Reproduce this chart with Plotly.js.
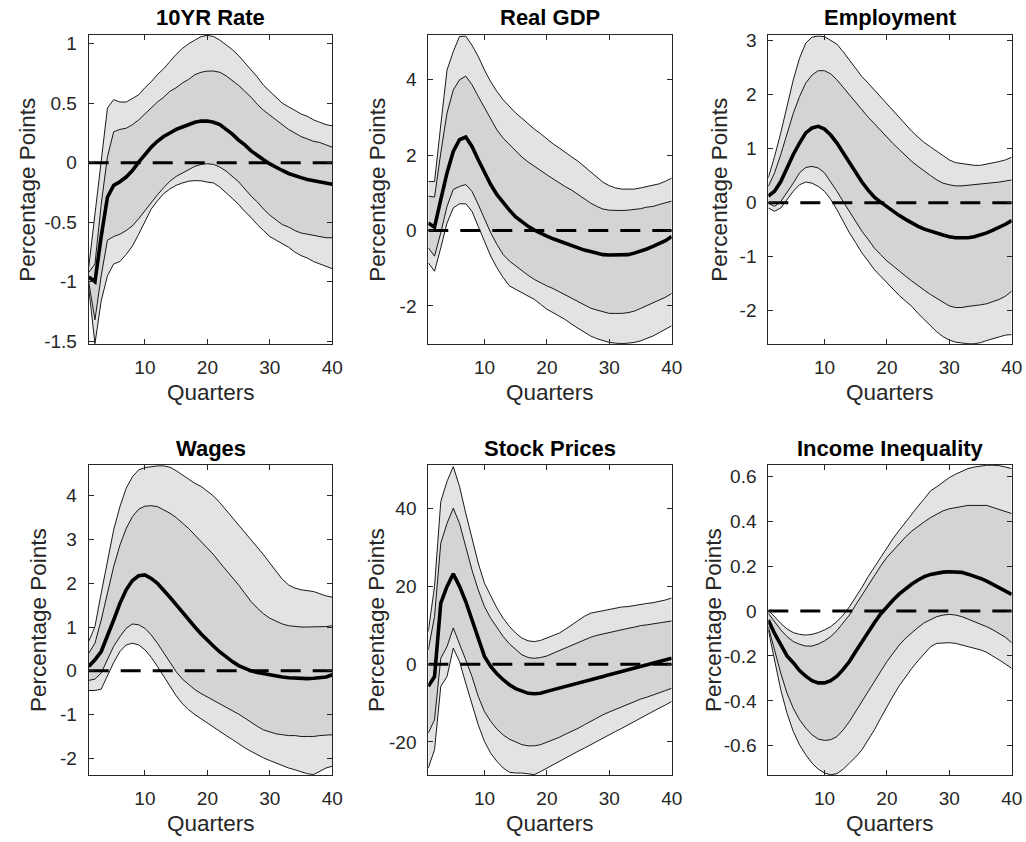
<!DOCTYPE html>
<html><head><meta charset="utf-8">
<script src="https://cdn.plot.ly/plotly-3.0.1.min.js"></script>
<style>html,body{margin:0;padding:0;background:#fff}#chart{width:1026px;height:842px}</style>
</head><body><div id="chart"></div>
<script>
// ---------------- DATA ----------------
const quarters = Array.from({length: 40}, (_, i) => i + 1);
const xTickVals = [10, 20, 30, 40];
const xTickText = ['10', '20', '30', '40'];

// 10YR Rate
const rate_lo90 = [-1.05,-1.52,-1.16,-0.95,-0.85,-0.83,-0.77,-0.70,-0.60,-0.49,-0.39,-0.32,-0.26,-0.22,-0.19,-0.17,-0.155,-0.15,-0.152,-0.163,-0.17,-0.205,-0.25,-0.30,-0.35,-0.41,-0.46,-0.52,-0.57,-0.62,-0.65,-0.68,-0.71,-0.75,-0.78,-0.80,-0.83,-0.85,-0.87,-0.89];
const rate_lo68 = [-1.00,-1.32,-0.95,-0.65,-0.62,-0.60,-0.57,-0.53,-0.47,-0.40,-0.33,-0.27,-0.21,-0.155,-0.115,-0.085,-0.056,-0.03,-0.014,-0.008,-0.014,-0.037,-0.07,-0.115,-0.16,-0.22,-0.28,-0.33,-0.39,-0.44,-0.48,-0.52,-0.54,-0.57,-0.59,-0.60,-0.61,-0.62,-0.63,-0.63];
const rate_med  = [-0.96,-1.00,-0.62,-0.29,-0.19,-0.16,-0.12,-0.065,0.005,0.07,0.13,0.18,0.22,0.25,0.28,0.30,0.32,0.34,0.35,0.35,0.34,0.32,0.28,0.24,0.19,0.15,0.10,0.06,0.025,-0.01,-0.04,-0.065,-0.09,-0.11,-0.125,-0.14,-0.15,-0.16,-0.17,-0.18];
const rate_hi68 = [-0.92,-0.85,-0.35,0.05,0.26,0.28,0.29,0.32,0.36,0.41,0.46,0.51,0.55,0.60,0.63,0.67,0.70,0.74,0.76,0.77,0.77,0.76,0.73,0.69,0.65,0.60,0.55,0.49,0.44,0.40,0.36,0.32,0.28,0.25,0.22,0.20,0.18,0.17,0.15,0.13];
const rate_hi90 = [-0.88,-0.45,0.02,0.46,0.53,0.51,0.51,0.54,0.57,0.63,0.68,0.74,0.79,0.85,0.91,0.96,1.00,1.03,1.06,1.07,1.06,1.03,0.99,0.95,0.90,0.84,0.78,0.72,0.65,0.60,0.55,0.50,0.47,0.44,0.41,0.39,0.36,0.34,0.32,0.31];
const rateTickVals = [-1.5,-1,-0.5,0,0.5,1];
const rateTickText = ['-1.5','-1','-0.5','0','0.5','1'];

// Real GDP
const gdp_lo90 = [-0.86,-1.08,-0.46,0.20,0.60,0.71,0.71,0.51,0.11,-0.28,-0.68,-0.99,-1.25,-1.47,-1.56,-1.65,-1.74,-1.83,-1.96,-2.09,-2.18,-2.27,-2.37,-2.49,-2.60,-2.71,-2.80,-2.87,-2.93,-2.97,-2.99,-3.00,-2.99,-2.97,-2.93,-2.87,-2.80,-2.71,-2.62,-2.53];
const gdp_lo68 = [-0.46,-0.68,-0.06,0.64,1.09,1.17,1.22,1.04,0.69,0.29,-0.06,-0.37,-0.64,-0.81,-0.94,-1.08,-1.19,-1.30,-1.39,-1.47,-1.54,-1.63,-1.72,-1.81,-1.90,-1.99,-2.06,-2.11,-2.16,-2.20,-2.20,-2.20,-2.18,-2.14,-2.07,-2.00,-1.93,-1.85,-1.77,-1.67];
const gdp_med  = [0.20,0.09,0.82,1.53,2.10,2.41,2.48,2.23,1.88,1.53,1.22,0.95,0.73,0.54,0.36,0.22,0.11,0.01,-0.08,-0.15,-0.22,-0.28,-0.34,-0.41,-0.47,-0.52,-0.56,-0.61,-0.64,-0.65,-0.65,-0.65,-0.64,-0.60,-0.55,-0.49,-0.42,-0.35,-0.27,-0.16];
const gdp_hi68 = [0.91,0.89,2.06,3.12,3.73,4.00,4.10,3.87,3.56,3.25,2.94,2.67,2.45,2.28,2.10,1.95,1.82,1.70,1.60,1.48,1.37,1.26,1.16,1.07,0.95,0.84,0.73,0.64,0.57,0.54,0.53,0.53,0.54,0.56,0.58,0.62,0.64,0.69,0.73,0.78];
const gdp_hi90 = [1.30,1.30,2.80,4.26,4.75,5.15,5.16,4.92,4.62,4.26,3.95,3.69,3.47,3.29,3.12,2.98,2.83,2.69,2.57,2.43,2.30,2.19,2.06,1.95,1.84,1.70,1.57,1.44,1.28,1.19,1.13,1.10,1.10,1.10,1.13,1.16,1.19,1.24,1.31,1.39];
const gdpTickVals = [-2,0,2,4];
const gdpTickText = ['-2','0','2','4'];

// Employment
const emp_lo90 = [-0.10,-0.16,-0.10,0.06,0.21,0.33,0.38,0.36,0.30,0.21,0.06,-0.13,-0.34,-0.56,-0.74,-0.93,-1.08,-1.24,-1.36,-1.48,-1.61,-1.72,-1.82,-1.92,-2.05,-2.16,-2.28,-2.39,-2.48,-2.54,-2.58,-2.60,-2.61,-2.61,-2.59,-2.55,-2.52,-2.48,-2.45,-2.44];
const emp_lo68 = [-0.01,-0.07,0.02,0.18,0.36,0.55,0.65,0.67,0.64,0.55,0.39,0.21,0.02,-0.16,-0.34,-0.53,-0.68,-0.84,-0.96,-1.08,-1.17,-1.27,-1.36,-1.45,-1.54,-1.62,-1.70,-1.77,-1.85,-1.91,-1.94,-1.94,-1.92,-1.91,-1.89,-1.87,-1.83,-1.79,-1.73,-1.64];
const emp_med  = [0.12,0.21,0.39,0.64,0.89,1.10,1.29,1.38,1.41,1.36,1.25,1.10,0.92,0.73,0.55,0.38,0.23,0.10,0.01,-0.08,-0.16,-0.24,-0.31,-0.38,-0.44,-0.49,-0.53,-0.57,-0.60,-0.63,-0.65,-0.65,-0.65,-0.63,-0.60,-0.56,-0.51,-0.46,-0.40,-0.33];
const emp_hi68 = [0.30,0.55,0.89,1.29,1.65,1.96,2.21,2.36,2.44,2.44,2.38,2.27,2.13,1.99,1.85,1.72,1.58,1.46,1.33,1.21,1.09,0.98,0.87,0.76,0.67,0.58,0.50,0.42,0.36,0.33,0.31,0.31,0.32,0.33,0.34,0.36,0.37,0.38,0.40,0.42];
const emp_hi90 = [0.46,0.85,1.29,1.78,2.27,2.67,2.95,3.06,3.08,3.07,3.00,2.93,2.79,2.64,2.48,2.33,2.21,2.08,1.96,1.83,1.69,1.56,1.44,1.32,1.21,1.11,1.03,0.95,0.87,0.79,0.74,0.72,0.70,0.69,0.69,0.71,0.73,0.76,0.79,0.84];
const empTickVals = [-2,-1,0,1,2,3];
const empTickText = ['-2','-1','0','1','2','3'];

// Wages
const wage_lo90 = [-0.45,-0.45,-0.42,-0.13,0.19,0.44,0.59,0.63,0.59,0.48,0.31,0.10,-0.13,-0.36,-0.57,-0.75,-0.89,-1.00,-1.10,-1.19,-1.29,-1.38,-1.48,-1.57,-1.67,-1.76,-1.84,-1.92,-1.99,-2.05,-2.11,-2.17,-2.22,-2.26,-2.31,-2.35,-2.37,-2.30,-2.22,-2.18];
const wage_lo68 = [-0.22,-0.19,-0.05,0.25,0.56,0.78,0.97,1.07,1.05,0.97,0.82,0.63,0.42,0.19,-0.02,-0.19,-0.32,-0.43,-0.52,-0.60,-0.68,-0.75,-0.83,-0.90,-0.99,-1.08,-1.18,-1.27,-1.35,-1.40,-1.44,-1.46,-1.48,-1.48,-1.50,-1.50,-1.50,-1.48,-1.47,-1.46];
const wage_med  = [0.10,0.25,0.44,0.78,1.16,1.54,1.85,2.06,2.17,2.19,2.11,2.00,1.85,1.68,1.51,1.33,1.16,1.00,0.84,0.69,0.56,0.43,0.31,0.21,0.12,0.05,0.00,-0.04,-0.07,-0.10,-0.12,-0.14,-0.16,-0.17,-0.18,-0.18,-0.17,-0.16,-0.14,-0.09];
const wage_hi68 = [0.40,0.63,1.16,1.77,2.38,2.87,3.25,3.52,3.69,3.76,3.77,3.75,3.67,3.60,3.50,3.38,3.25,3.10,2.95,2.80,2.65,2.47,2.30,2.14,1.96,1.77,1.58,1.43,1.30,1.20,1.13,1.07,1.03,1.01,1.00,1.00,1.00,1.00,1.01,1.03];
const wage_hi90 = [0.67,1.01,1.77,2.53,3.22,3.75,4.17,4.43,4.59,4.64,4.66,4.68,4.68,4.65,4.57,4.47,4.37,4.28,4.21,4.11,3.99,3.84,3.67,3.51,3.35,3.18,3.00,2.82,2.65,2.46,2.27,2.09,1.96,1.89,1.85,1.83,1.81,1.76,1.71,1.68];
const wageTickVals = [-2,-1,0,1,2,3,4];
const wageTickText = ['-2','-1','0','1','2','3','4'];

// Stock Prices
const stock_lo90 = [-26.7,-22.0,-5.7,-3.2,4.1,0.7,-4.9,-10.5,-15.6,-19.9,-22.9,-25.0,-26.7,-27.8,-28.0,-28.0,-28.2,-28.4,-27.6,-26.7,-25.9,-25.0,-24.2,-23.3,-22.4,-21.6,-20.7,-19.9,-19.0,-18.2,-17.3,-16.5,-15.6,-14.7,-13.9,-13.0,-12.2,-11.3,-10.5,-9.6];
const stock_lo68 = [-17.7,-14.3,1.5,4.5,9.3,5.4,1.1,-3.2,-8.3,-12.2,-14.7,-16.7,-18.2,-19.3,-20.1,-20.7,-21.0,-21.0,-20.7,-20.1,-19.5,-18.8,-18.0,-17.3,-16.5,-15.6,-14.7,-13.9,-13.0,-12.3,-11.6,-10.9,-10.2,-9.6,-9.0,-8.5,-8.0,-7.5,-6.8,-6.2];
const stock_med  = [-5.7,-3.2,15.7,20.0,23.2,20.0,16.1,11.4,6.3,2.0,-0.6,-2.5,-4.0,-5.3,-6.3,-7.0,-7.5,-7.6,-7.5,-7.0,-6.6,-6.2,-5.7,-5.3,-4.9,-4.5,-4.0,-3.6,-3.2,-2.7,-2.3,-1.9,-1.5,-1.0,-0.6,-0.2,0.3,0.7,1.1,1.5];
const stock_hi68 = [3.7,12.3,31.1,36.2,40.1,36.2,30.2,24.2,19.1,14.8,11.8,9.3,7.1,5.2,3.7,2.4,1.7,1.5,1.7,2.1,2.8,3.5,4.3,5.0,5.6,6.3,6.9,7.4,7.8,8.1,8.5,8.8,9.2,9.5,9.9,10.1,10.4,10.6,10.9,11.1];
const stock_hi90 = [8.4,20.0,41.8,47.0,50.8,45.7,38.8,32.0,26.0,20.8,17.4,14.4,11.8,9.7,8.0,6.7,6.0,5.8,6.1,6.7,7.3,8.0,9.0,10.1,11.4,12.3,13.1,13.4,13.8,14.0,14.3,14.7,14.8,15.1,15.4,15.6,15.8,16.1,16.5,17.0];
const stockTickVals = [-20,0,20,40];
const stockTickText = ['-20','0','20','40'];

// Income Inequality
const ineq_lo90 = [-0.084,-0.218,-0.351,-0.455,-0.536,-0.596,-0.640,-0.677,-0.704,-0.721,-0.729,-0.724,-0.704,-0.677,-0.650,-0.618,-0.576,-0.529,-0.477,-0.425,-0.378,-0.332,-0.292,-0.255,-0.221,-0.188,-0.159,-0.144,-0.141,-0.141,-0.144,-0.151,-0.159,-0.166,-0.173,-0.184,-0.200,-0.218,-0.236,-0.255];
const ineq_lo68 = [-0.070,-0.173,-0.277,-0.366,-0.433,-0.484,-0.521,-0.551,-0.570,-0.576,-0.573,-0.559,-0.529,-0.492,-0.447,-0.403,-0.359,-0.314,-0.270,-0.225,-0.188,-0.151,-0.121,-0.095,-0.073,-0.052,-0.037,-0.025,-0.018,-0.015,-0.018,-0.025,-0.036,-0.047,-0.058,-0.070,-0.084,-0.099,-0.117,-0.141];
const ineq_med  = [-0.040,-0.100,-0.150,-0.200,-0.230,-0.265,-0.290,-0.310,-0.320,-0.320,-0.310,-0.290,-0.260,-0.225,-0.180,-0.136,-0.092,-0.052,-0.013,0.019,0.049,0.076,0.100,0.120,0.138,0.153,0.163,0.170,0.173,0.175,0.175,0.172,0.164,0.156,0.145,0.133,0.119,0.104,0.089,0.074];
const ineq_hi68 = [-0.010,-0.047,-0.084,-0.114,-0.136,-0.148,-0.156,-0.156,-0.147,-0.133,-0.114,-0.087,-0.055,-0.018,0.027,0.071,0.116,0.160,0.200,0.239,0.271,0.301,0.330,0.356,0.378,0.397,0.416,0.431,0.446,0.455,0.461,0.467,0.470,0.470,0.471,0.470,0.461,0.452,0.444,0.434];
const ineq_hi90 = [0.005,-0.025,-0.055,-0.080,-0.096,-0.104,-0.107,-0.104,-0.096,-0.084,-0.070,-0.047,-0.018,0.019,0.060,0.105,0.153,0.197,0.241,0.283,0.323,0.360,0.397,0.431,0.467,0.500,0.535,0.553,0.575,0.594,0.609,0.622,0.634,0.641,0.646,0.649,0.649,0.647,0.641,0.634];
const ineqTickVals = [-0.6,-0.4,-0.2,0,0.2,0.4,0.6];
const ineqTickText = ['-0.6','-0.4','-0.2','0','0.2','0.4','0.6'];

const titles = ['10YR Rate', 'Real GDP', 'Employment', 'Wages', 'Stock Prices', 'Income Inequality'];
const yLabel = 'Percentage Points';
const xLabel = 'Quarters';

// ---------------- LAYOUT / TRACES ----------------
const W = 1026, H = 842;
const pxX = v => v / W, pxY = v => 1 - v / H;
const FONT = '"Liberation Sans", Arial, Helvetica, sans-serif';
const TXT = '#262626';
const cols = [[88.7, 332.3], [428.3, 671.7], [768.3, 1011.7]];
const rows = [[35, 344.3], [465, 775]];

const panels = [
  {bands: [rate_lo90, rate_lo68, rate_med, rate_hi68, rate_hi90], range: [-1.525, 1.073], tv: rateTickVals, tt: rateTickText, ylx: 28},
  {bands: [gdp_lo90, gdp_lo68, gdp_med, gdp_hi68, gdp_hi90], range: [-3.02, 5.19], tv: gdpTickVals, tt: gdpTickText, ylx: 378},
  {bands: [emp_lo90, emp_lo68, emp_med, emp_hi68, emp_hi90], range: [-2.62, 3.1], tv: empTickVals, tt: empTickText, ylx: 720},
  {bands: [wage_lo90, wage_lo68, wage_med, wage_hi68, wage_hi90], range: [-2.38, 4.7], tv: wageTickVals, tt: wageTickText, ylx: 38},
  {bands: [stock_lo90, stock_lo68, stock_med, stock_hi68, stock_hi90], range: [-28.5, 51.2], tv: stockTickVals, tt: stockTickText, ylx: 376},
  {bands: [ineq_lo90, ineq_lo68, ineq_med, ineq_hi68, ineq_hi90], range: [-0.73, 0.65], tv: ineqTickVals, tt: ineqTickText, ylx: 713}
];

const traces = [];
const layout = {
  width: W, height: H,
  margin: {l: 0, r: 0, t: 0, b: 0},
  paper_bgcolor: '#ffffff', plot_bgcolor: '#ffffff',
  showlegend: false,
  font: {family: FONT, color: TXT},
  annotations: []
};

panels.forEach((p, i) => {
  const sfx = i === 0 ? '' : String(i + 1);
  const xa = 'x' + sfx, ya = 'y' + sfx;
  const c = cols[i % 3], r = rows[Math.floor(i / 3)];
  const [lo90, lo68, med, hi68, hi90] = p.bands;
  const common = {x: quarters, xaxis: xa, yaxis: ya, mode: 'lines', hoverinfo: 'skip', showlegend: false};

  // outer band fill
  traces.push(Object.assign({}, common, {y: lo90, line: {width: 0, color: 'rgba(0,0,0,0)'}}));
  traces.push(Object.assign({}, common, {y: hi90, fill: 'tonexty', fillcolor: '#e3e3e3', line: {width: 0, color: 'rgba(0,0,0,0)'}}));
  // inner band fill
  traces.push(Object.assign({}, common, {y: lo68, line: {width: 0, color: 'rgba(0,0,0,0)'}}));
  traces.push(Object.assign({}, common, {y: hi68, fill: 'tonexty', fillcolor: '#d4d4d4', line: {width: 0, color: 'rgba(0,0,0,0)'}}));
  // band edges
  [lo90, lo68, hi68, hi90].forEach(s => {
    traces.push(Object.assign({}, common, {y: s, line: {width: 0.9, color: '#000000'}}));
  });
  // zero line
  traces.push(Object.assign({}, common, {x: [quarters[0], quarters[quarters.length - 1]], y: [0, 0],
    line: {width: 3, color: '#000000', dash: '20px,12px'}}));
  // median
  traces.push(Object.assign({}, common, {y: med, line: {width: 3.6, color: '#000000'}}));

  const axCommon = {
    showgrid: false, zeroline: false, showline: true, linecolor: TXT, linewidth: 1,
    mirror: 'ticks', ticks: 'inside', ticklen: 5, tickwidth: 1, tickcolor: TXT,
    tickfont: {family: FONT, size: 19, color: TXT}, fixedrange: true
  };
  layout['xaxis' + sfx] = Object.assign({}, axCommon, {
    domain: [pxX(c[0]), pxX(c[1])], anchor: ya, range: [1, 40],
    tickmode: 'array', tickvals: xTickVals, ticktext: xTickText, ticklabelstandoff: 6
  });
  layout['yaxis' + sfx] = Object.assign({}, axCommon, {
    domain: [pxY(r[1]), pxY(r[0])], anchor: xa, range: p.range,
    tickmode: 'array', tickvals: p.tv, ticktext: p.tt, ticklabelstandoff: 7
  });

  const cx = (c[0] + c[1]) / 2;
  layout.annotations.push({
    text: '<b>' + titles[i] + '</b>', xref: 'paper', yref: 'paper',
    x: pxX(cx), y: pxY(r[0] - 17), xanchor: 'center', yanchor: 'middle',
    showarrow: false, font: {family: FONT, size: 22, color: '#000000'}
  });
  layout.annotations.push({
    text: yLabel, xref: 'paper', yref: 'paper', textangle: -90,
    x: pxX(p.ylx), y: pxY((r[0] + r[1]) / 2), xanchor: 'center', yanchor: 'middle',
    showarrow: false, font: {family: FONT, size: 22.5, color: TXT}
  });
  layout.annotations.push({
    text: xLabel, xref: 'paper', yref: 'paper',
    x: pxX(cx), y: pxY(r[1] + 48), xanchor: 'center', yanchor: 'middle',
    showarrow: false, font: {family: FONT, size: 22.5, color: TXT}
  });
});

Plotly.newPlot('chart', traces, layout, {staticPlot: true, displayModeBar: false});
</script>
</body></html>
